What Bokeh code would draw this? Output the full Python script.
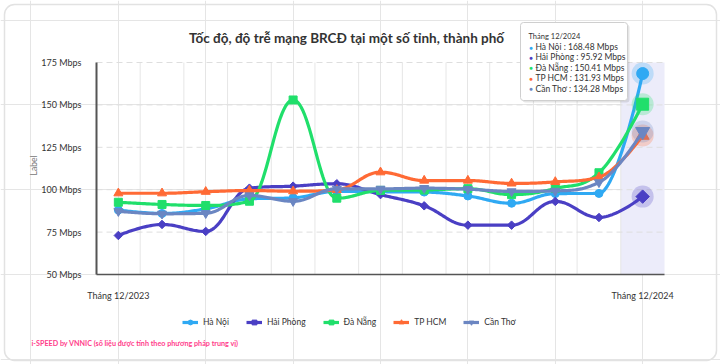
import numpy as np
from bokeh.plotting import figure
from bokeh.models import (Range1d, Legend, LegendItem, Label,
                          BoxAnnotation, ColumnDataSource)
from bokeh.core.properties import value
from bokeh.embed import file_html
from bokeh.resources import INLINE

# ---- data -------------------------------------------------------------
months = ["Tháng 12/2023", "Tháng 1/2024", "Tháng 2/2024", "Tháng 3/2024",
          "Tháng 4/2024", "Tháng 5/2024", "Tháng 6/2024", "Tháng 7/2024",
          "Tháng 8/2024", "Tháng 9/2024", "Tháng 10/2024", "Tháng 11/2024",
          "Tháng 12/2024"]

ha_noi = [88.0, 86.0, 88.7, 94.6, 95.2, 99.0, 98.8, 98.6, 96.3, 92.0, 97.7, 97.8, 168.48]
hai_phong = [73.0, 79.5, 75.4, 100.9, 102.1, 103.5, 97.1, 90.5, 79.1, 79.1, 93.1, 83.6, 95.92]
da_nang = [92.6, 91.3, 90.7, 93.2, 152.9, 95.0, 99.6, 99.8, 100.6, 97.1, 100.7, 110.0, 150.41]
tp_hcm = [97.9, 97.9, 98.8, 99.5, 99.1, 99.9, 110.3, 105.4, 105.4, 103.7, 104.6, 107.4, 131.93]
can_tho = [87.3, 85.8, 86.1, 96.6, 93.2, 100.5, 100.5, 100.9, 100.3, 99.0, 99.3, 104.3, 134.28]

series_names = ["Hà Nội", "Hải Phòng", "Đà Nẵng", "TP HCM", "Cần Thơ"]
y_ticks = [50, 75, 100, 125, 150, 175]
y_tick_labels = ["50 Mbps", "75 Mbps", "100 Mbps", "125 Mbps", "150 Mbps", "175 Mbps"]

# ---- styling ----------------------------------------------------------
FONT = "Lato"
colors = ["#2fa9f3", "#4a3fc4", "#20df6b", "#ff6a35", "#6b86c2"]
markers = ["circle", "square", "square", "triangle", "inverted_triangle"]
angles = [0, np.pi / 4, 0, 0, 0]
marker_sizes = [8, 6, 8, 9, 9]
hover_sizes = [12, 9.5, 12, 13, 14]

W, H = 720, 364
PLOT_L, PLOT_R, PLOT_T, PLOT_B = 96, 664, 62, 274   # pixel box of the value area

x_idx = list(range(len(months)))
y_min, y_max = y_ticks[0], y_ticks[-1]
x_lo, x_hi = -0.5, len(months) - 0.5
PXU = (PLOT_R - PLOT_L) / (x_hi - x_lo)      # pixels per month
PYU = (PLOT_B - PLOT_T) / (y_max - y_min)    # pixels per Mbps


def fx(px):
    """canvas pixel column -> x data value"""
    return x_lo + (px - PLOT_L) / PXU


def fy(py):
    """canvas pixel row -> y data value"""
    return y_min + (PLOT_B - py) / PYU


def spline(xs, ys, steps=30):
    """Smooth curve through the points (cubic Béziers, spline smoothing 1.5)."""
    xs = [float(v) for v in xs]
    ys = [float(v) for v in ys]
    n = len(xs)
    sm, den = 1.5, 2.5
    lc = list(zip(xs, ys))
    rc = list(zip(xs, ys))
    for i in range(1, n - 1):
        px, py = xs[i], ys[i]
        lx, ly = xs[i - 1], ys[i - 1]
        nx, ny = xs[i + 1], ys[i + 1]
        lcx, lcy = (sm * px + lx) / den, (sm * py + ly) / den
        rcx, rcy = (sm * px + nx) / den, (sm * py + ny) / den
        corr = ((rcy - lcy) * (rcx - px)) / (rcx - lcx) + py - rcy
        lcy += corr
        rcy += corr
        if lcy > ly and lcy > py:
            lcy = max(ly, py); rcy = 2 * py - lcy
        elif lcy < ly and lcy < py:
            lcy = min(ly, py); rcy = 2 * py - lcy
        if rcy > ny and rcy > py:
            rcy = max(ny, py); lcy = 2 * py - rcy
        elif rcy < ny and rcy < py:
            rcy = min(ny, py); lcy = 2 * py - rcy
        lc[i] = (lcx, lcy)
        rc[i] = (rcx, rcy)
    t = np.linspace(0, 1, steps + 1)[1:]
    out_x, out_y = [xs[0]], [ys[0]]
    for i in range(1, n):
        p0 = np.array([xs[i - 1], ys[i - 1]])
        c1 = np.array(rc[i - 1])
        c2 = np.array(lc[i])
        p3 = np.array([xs[i], ys[i]])
        for tt in t:
            pt = ((1 - tt) ** 3) * p0 + 3 * ((1 - tt) ** 2) * tt * c1 \
                + 3 * (1 - tt) * tt * tt * c2 + (tt ** 3) * p3
            out_x.append(pt[0]); out_y.append(pt[1])
    return out_x, out_y


p = figure(width=W, height=H, output_backend="svg", toolbar_location=None,
           x_range=Range1d(fx(0), fx(W)), y_range=Range1d(fy(H), fy(0)),
           x_axis_location=None, y_axis_location=None,
           min_border=0, background_fill_color="white", border_fill_color="white")
p.outline_line_color = None

# card outline
p.add_layout(BoxAnnotation(left=fx(4), right=fx(716), top=fy(4), bottom=fy(360),
                           fill_alpha=0, line_color="#e2e2e2", line_alpha=1.0,
                           line_width=1.5, border_radius=10))

# highlighted last month column
p.add_layout(BoxAnnotation(left=x_hi - 1, right=x_hi, bottom=y_min, top=y_max,
                           fill_color="#ececfa", fill_alpha=1.0, line_color=None,
                           level="underlay"))

# grid lines, limited to the value area
bounds = [i + 0.5 for i in range(len(months) - 1)]
p.segment(x0=bounds, y0=[y_min] * len(bounds), x1=bounds, y1=[y_max] * len(bounds),
          line_color="#e6e6e6", line_width=1)
h_lines = y_ticks[1:]
p.segment(x0=[x_lo] * len(h_lines), y0=h_lines, x1=[x_hi] * len(h_lines), y1=h_lines,
          line_color="#dedede", line_width=1, line_dash="6 4")

# axis lines
p.segment(x0=[x_lo], y0=[y_min], x1=[x_lo], y1=[y_max], line_color="#555555",
          line_width=2)
p.segment(x0=[x_lo], y0=[y_min], x1=[x_hi], y1=[y_min], line_color="#555555",
          line_width=1.4)

# value axis labels
p.text(x=[fx(81)] * len(y_ticks), y=y_ticks, text=y_tick_labels,
       text_font=value(FONT), text_font_size="9px", text_color="#333333",
       text_align="right", text_baseline="middle")
p.add_layout(Label(x=fx(33), y=fy(165), text="Label", angle=np.pi / 2,
                   text_font=FONT, text_font_size="8.5px", text_color="#777777",
                   text_align="center", text_baseline="middle"))

# month axis labels: first and last month only
p.text(x=[x_idx[0], x_idx[-1]], y=[fy(295)] * 2, text=[months[0], months[-1]],
       text_font=value(FONT), text_font_size="9px", text_color="#333333",
       text_align="center", text_baseline="middle")

# series
legend_items = []
for name, vals, col, mk, ang, ms, hs in zip(series_names,
                                            [ha_noi, hai_phong, da_nang, tp_hcm, can_tho],
                                            colors, markers, angles, marker_sizes, hover_sizes):
    sx, sy = spline(x_idx, vals)
    lr = p.line(sx, sy, line_color=col, line_width=3.2, line_join="round")
    src = ColumnDataSource(dict(x=x_idx[:-1], y=vals[:-1]))
    sr = p.scatter("x", "y", source=src, marker=mk, angle=ang, size=ms,
                   fill_color=col, line_color=col)
    p.scatter([x_idx[-1]], [vals[-1]], marker="circle", size=22,
              fill_color=col, fill_alpha=0.25, line_color=None)
    p.scatter([x_idx[-1]], [vals[-1]], marker=mk, angle=ang, size=hs,
              fill_color=col, line_color=col)
    legend_items.append(LegendItem(label=name, renderers=[lr, sr]))

legend = Legend(items=legend_items, orientation="horizontal",
                location=(182, H - 328), glyph_width=16, glyph_height=12,
                label_text_font=FONT, label_text_font_size="8.5px",
                label_text_color="#333333", label_standoff=5, spacing=17,
                padding=0, margin=0, border_line_color=None,
                background_fill_alpha=0)
p.add_layout(legend, "center")

# footer note
p.add_layout(Label(x=fx(31), y=fy(343),
                   text="i-SPEED by VNNIC (số liệu được tính theo phương pháp trung vị)",
                   text_font=FONT, text_font_size="7.2px", text_font_style="bold",
                   text_color="#ff3d8b", text_align="left", text_baseline="middle"))

# chart title
p.add_layout(Label(x=fx(346), y=fy(37),
                   text="Tốc độ, độ trễ mạng BRCĐ tại một số tỉnh, thành phố",
                   text_font=FONT, text_font_size="13.5px", text_font_style="bold",
                   text_color="#333333", text_align="center", text_baseline="middle"))

# tooltip for the last month
p.add_layout(BoxAnnotation(left=fx(522), right=fx(629), top=fy(24), bottom=fy(102),
                           fill_color="black", fill_alpha=0.10, line_color=None,
                           border_radius=3))
p.add_layout(BoxAnnotation(left=fx(520), right=fx(627), top=fy(22), bottom=fy(100),
                           fill_color="white", fill_alpha=1.0, line_color="#cfcfcf",
                           line_alpha=1.0, line_width=1, border_radius=3))
p.add_layout(Label(x=fx(528), y=fy(35.5), text=months[-1], text_font=FONT,
                   text_font_size="7.5px", text_color="#333333",
                   text_baseline="middle"))
for k, (name, vals, col) in enumerate(zip(series_names,
                                          [ha_noi, hai_phong, da_nang, tp_hcm, can_tho],
                                          colors)):
    row = 46.5 + k * 10.4
    p.add_layout(Label(x=fx(530.5), y=fy(row), text="●", text_font=FONT,
                       text_font_size="6px", text_color=col, text_align="center",
                       text_baseline="middle"))
    p.add_layout(Label(x=fx(535), y=fy(row), text=f"{name} : {vals[-1]:.2f} Mbps",
                       text_font=FONT, text_font_size="8.5px", text_color="#333333",
                       text_baseline="middle"))

open("out.html", "w").write(file_html(p, INLINE))
